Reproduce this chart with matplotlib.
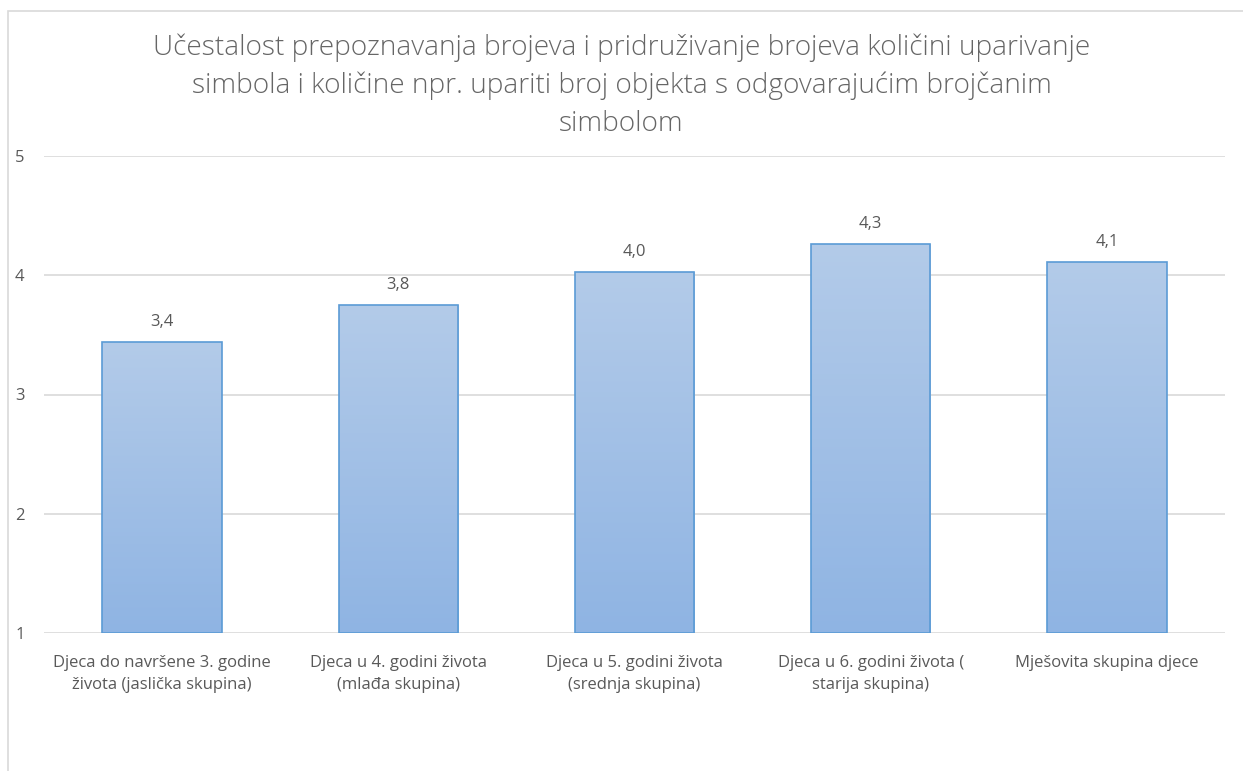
import numpy as np
import matplotlib.pyplot as plt
from matplotlib.patches import Rectangle
from matplotlib.colors import LinearSegmentedColormap

plt.rcParams['font.family'] = ['Open Sans', 'DejaVu Sans']

categories = ['Djeca do navršene 3. godine\nživota (jaslička skupina)',
              'Djeca u 4. godini života\n(mlađa skupina)',
              'Djeca u 5. godini života\n(srednja skupina)',
              'Djeca u 6. godini života (\nstarija skupina)',
              'Mješovita skupina djece']
values = [3.44, 3.75, 4.03, 4.26, 4.11]
yticks = [1, 2, 3, 4, 5]
title = ('Učestalost prepoznavanja brojeva i pridruživanje brojeva količini uparivanje\n'
         'simbola i količine npr. upariti broj objekta s odgovarajućim brojčanim\n'
         'simbolom')

text_col = '#595959'
title_col = '#666666'
grid_col = '#d9d9d9'
edge_col = '#5b9bd5'

fig = plt.figure(figsize=(12.43, 7.71), dpi=100)
# outer chart frame
fig.patches.append(Rectangle((8 / 1243, -0.01), 1.02, 1 - 11 / 771 + 0.01,
                             transform=fig.transFigure, fill=False,
                             edgecolor=grid_col, linewidth=1.2))

ax = fig.add_axes([44 / 1243, 1 - 633 / 771, (1225 - 44) / 1243, (633 - 156) / 771])
x = np.arange(len(categories))
bars = ax.bar(x, [v - 1 for v in values], bottom=1, width=0.505,
              color='none', edgecolor=edge_col, linewidth=1.2, zorder=3)

cmap = LinearSegmentedColormap.from_list('g', ['#8fb4e3', '#b3cbe9'])
grad = np.linspace(0, 1, 256).reshape(-1, 1)
for b, v in zip(bars, values):
    im = ax.imshow(grad, cmap=cmap, aspect='auto', origin='lower',
                   extent=[b.get_x(), b.get_x() + b.get_width(), 1, v], zorder=2)
    im.set_clip_path(b)
    ax.text(b.get_x() + b.get_width() / 2, v + 0.1, f'{v:.1f}'.replace('.', ','),
            ha='center', va='bottom', color=text_col, fontsize=12)

ax.set_xlim(-0.5, len(categories) - 0.5)
ax.set_ylim(1, 5)
ax.set_yticks(yticks)
ax.set_xticks(x)
ax.set_xticklabels(categories, color=text_col, fontsize=12, linespacing=1.5)
ax.tick_params(axis='y', colors=text_col, labelsize=12, length=0, pad=14)
ax.tick_params(axis='x', length=0, pad=16)
ax.grid(axis='y', color=grid_col, linewidth=1.2, zorder=0)
ax.set_axisbelow(True)
for s in ax.spines.values():
    s.set_visible(False)

fig.text(0.5, 1 - 33 / 771, title, ha='center', va='top', color=title_col,
         fontsize=20.2, linespacing=1.48, fontweight='light')

fig.savefig('out.png', dpi=100, facecolor='white')
